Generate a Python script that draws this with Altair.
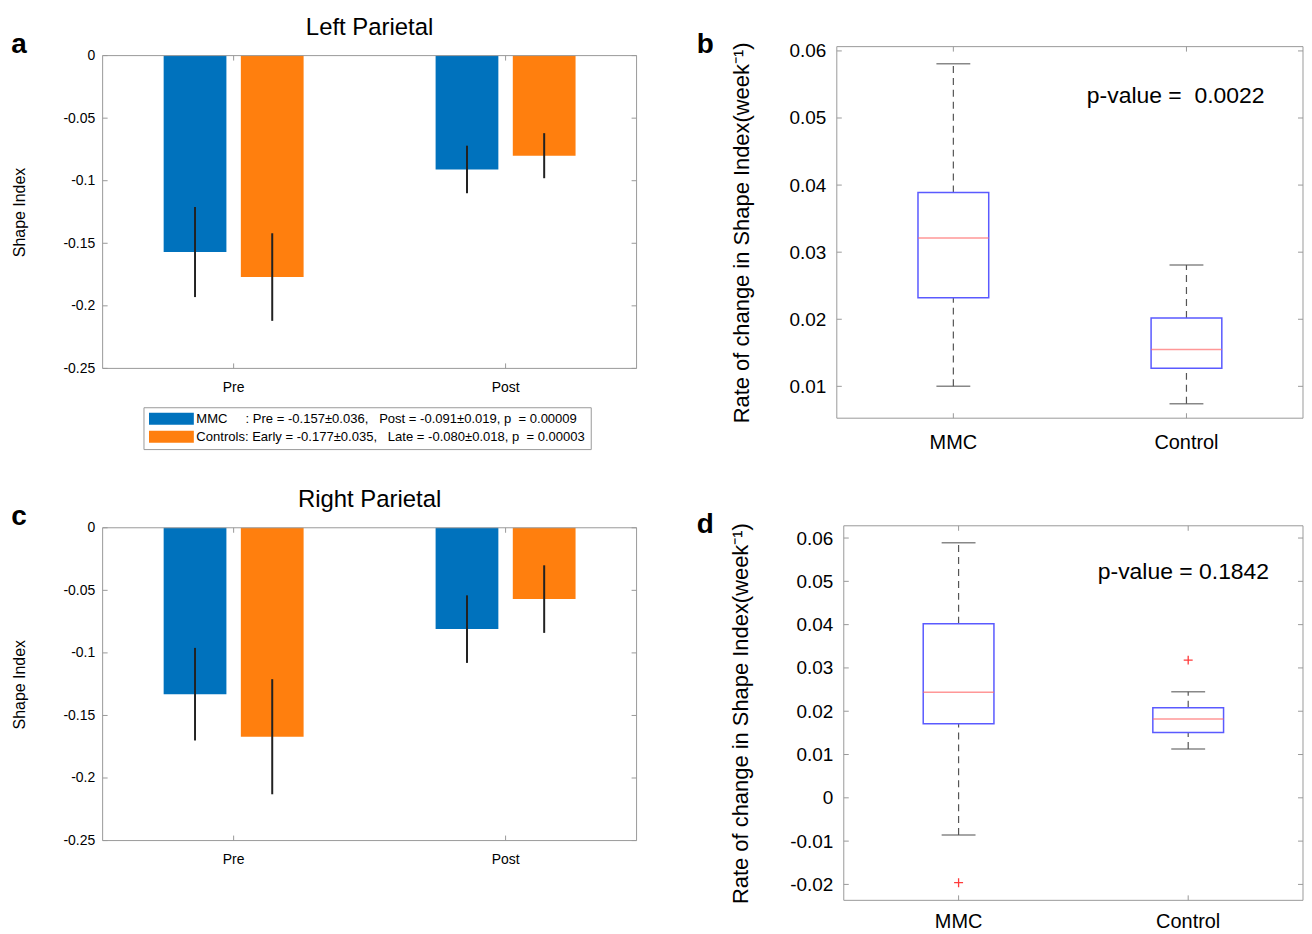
import altair as alt
import pandas as pd

FONT = "Liberation Sans"
NB = "\u00a0"
BOX_GRAY = "#9a9a9a"

# ---------------- data: bar panels (a, c) ----------------
bar_groups = ["Pre", "Post"]
bar_series = ["MMC", "Controls"]
bar_colors = ["#0072bd", "#ff7f0e"]
bar_ticks = [0, -0.05, -0.1, -0.15, -0.2, -0.25]

left_mmc_mean = [-0.157, -0.091]
left_mmc_sd = [0.036, 0.019]
left_ctl_mean = [-0.177, -0.080]
left_ctl_sd = [0.035, 0.018]
left_p = ["0.00009", "0.00003"]

right_mmc_mean = [-0.133, -0.081]
right_mmc_sd = [0.037, 0.027]
right_ctl_mean = [-0.167, -0.057]
right_ctl_sd = [0.046, 0.027]
right_p = ["0.00182", "0.00005"]

# ---------------- data: box panels (b, d) ----------------
box_groups = ["MMC", "Control"]

b_low = [0.0100, 0.0074]
b_q1 = [0.0232, 0.0127]
b_med = [0.0321, 0.0155]
b_q3 = [0.0389, 0.0202]
b_high = [0.0581, 0.0281]
b_ptext = "p-value =" + NB + NB + "0.0022"
b_ticks = [0.01, 0.02, 0.03, 0.04, 0.05, 0.06]

d_low = [-0.0086, 0.0113]
d_q1 = [0.0171, 0.0151]
d_med = [0.0244, 0.0182]
d_q3 = [0.0402, 0.0208]
d_high = [0.0589, 0.0245]
d_out_group = ["MMC", "Control"]
d_out_val = [-0.0196, 0.0318]
d_ptext = "p-value = 0.1842"
d_ticks = [-0.02, -0.01, 0, 0.01, 0.02, 0.03, 0.04, 0.05, 0.06]

Y_TITLE_BOX = "Rate of change in Shape Index(week\u207b\u00b9)"

ONE = pd.DataFrame({"s": [0]})


def text_mark(txt, x, y, size, weight="normal", align="center"):
    return alt.Chart(pd.DataFrame({"t": [txt]})).mark_text(
        font=FONT, fontSize=size, fontWeight=weight, align=align,
        baseline="alphabetic", color="black"
    ).encode(text="t:N", x=alt.value(x), y=alt.value(y))


def anchor(x, y):
    # invisible point that fixes the outer bounds of the figure
    return alt.Chart(ONE).mark_point(opacity=0, size=1, filled=True).encode(
        x=alt.value(x), y=alt.value(y))


def frame(x0, x1, y0, y1):
    # the MATLAB style axes box
    r = dict(color=BOX_GRAY, strokeWidth=1)
    return [
        alt.Chart(ONE).mark_rule(**r).encode(x=alt.value(x0), x2=alt.value(x1), y=alt.value(y0)),
        alt.Chart(ONE).mark_rule(**r).encode(x=alt.value(x0), x2=alt.value(x1), y=alt.value(y1)),
        alt.Chart(ONE).mark_rule(**r).encode(x=alt.value(x0), y=alt.value(y0), y2=alt.value(y1)),
        alt.Chart(ONE).mark_rule(**r).encode(x=alt.value(x1), y=alt.value(y0), y2=alt.value(y1)),
    ]


def bar_panel(letter, title, mmc_mean, mmc_sd, ctl_mean, ctl_sd, pvals, top, W=536, H=314,
              legend_y=353, anchors=()):
    rows = []
    for i, g in enumerate(bar_groups):
        rows.append(dict(group=g, series="MMC", mean=mmc_mean[i],
                         lo=mmc_mean[i] - mmc_sd[i], hi=mmc_mean[i] + mmc_sd[i]))
        rows.append(dict(group=g, series="Controls", mean=ctl_mean[i],
                         lo=ctl_mean[i] - ctl_sd[i], hi=ctl_mean[i] + ctl_sd[i]))
    df = pd.DataFrame(rows)
    labels = [
        f"MMC{NB*5}: Pre = {mmc_mean[0]:.3f}\u00b1{mmc_sd[0]:.3f},{NB*3}Post = {mmc_mean[1]:.3f}\u00b1{mmc_sd[1]:.3f}, p{NB*2}= {pvals[0]}",
        f"Controls: Early = {ctl_mean[0]:.3f}\u00b1{ctl_sd[0]:.3f},{NB*3}Late = {ctl_mean[1]:.3f}\u00b1{ctl_sd[1]:.3f}, p{NB*2}= {pvals[1]}",
    ]
    label_expr = f"datum.label == 'MMC' ? '{labels[0]}' : '{labels[1]}'"
    bottom = top + H

    # MATLAB-like x limits: category centres slightly wider apart than W/2
    xscale = alt.Scale(paddingInner=0, paddingOuter=0, range=[-5, W + 5])
    x = alt.X("group:N", sort=bar_groups, scale=xscale,
              axis=alt.Axis(title=None, labelAngle=0, labelFontSize=14, labelPadding=12))
    xo = alt.XOffset("series:N", sort=bar_series,
                     scale=alt.Scale(paddingInner=0.187, paddingOuter=0.855))
    yscale = alt.Scale(domain=[-0.25, 0], nice=False, range=[bottom, top])
    y = alt.Y("mean:Q", scale=yscale,
              axis=alt.Axis(values=bar_ticks, title="Shape Index", titleFontSize=16,
                            titlePadding=36, labelFontSize=14, labelPadding=8,
                            labelExpr="datum.value < 0 ? '-' + format(-datum.value, '~g') : format(datum.value, '~g')"))
    color = alt.Color("series:N", sort=bar_series,
                      scale=alt.Scale(domain=bar_series, range=bar_colors),
                      legend=alt.Legend(
                          title=None, orient="none", legendX=41, legendY=legend_y + top,
                          direction="vertical",
                          symbolType="M-3.75,-1L3.75,-1L3.75,1L-3.75,1Z",
                          symbolSize=144, symbolOffset=16.5, labelOffset=18.5,
                          symbolStrokeWidth=0, symbolOpacity=1,
                          labelFont=FONT, labelFontSize=13.1, labelColor="black",
                          labelLimit=0, labelExpr=label_expr,
                          strokeColor=BOX_GRAY, fillColor="white",
                          padding=5, rowPadding=4))

    bars = alt.Chart(df).mark_bar().encode(x=x, xOffset=xo, y=y, color=color)
    err = alt.Chart(df).mark_bar(size=2, color="#222222").encode(
        x=alt.X("group:N", sort=bar_groups), xOffset=alt.XOffset("series:N", sort=bar_series),
        y=alt.Y("lo:Q"), y2="hi:Q")

    tdf = pd.DataFrame({"mean": bar_ticks})
    tl = alt.Chart(tdf).mark_rule(color=BOX_GRAY).encode(y="mean:Q", x=alt.value(0), x2=alt.value(5))
    tr = alt.Chart(tdf).mark_rule(color=BOX_GRAY).encode(y="mean:Q", x=alt.value(W - 5), x2=alt.value(W))
    gdf = pd.DataFrame({"group": bar_groups})
    tb = alt.Chart(gdf).mark_rule(color=BOX_GRAY).encode(
        x=alt.X("group:N", sort=bar_groups, bandPosition=0.5), y=alt.value(bottom), y2=alt.value(bottom - 5))
    tt = alt.Chart(gdf).mark_rule(color=BOX_GRAY).encode(
        x=alt.X("group:N", sort=bar_groups, bandPosition=0.5), y=alt.value(top), y2=alt.value(top + 5))

    layers = [bars, err, tl, tr, tb, tt] + frame(0, W, top, bottom) + [
        text_mark(letter, -84, top - 3, 28, "bold"),
        text_mark(title, W / 2, top - 21, 24),
    ] + [anchor(ax, ay) for ax, ay in anchors]
    return alt.layer(*layers).properties(width=W, height=bottom)


def box_panel(letter, low, q1, med, q3, high, ptext, ticks, domain, left, W, H,
              lab_pad, title_pad, x_lab_pad, letter_x, letter_y, p_x, p_y,
              out_g=None, out_v=None, label_expr=None, fmt=None):
    df = pd.DataFrame(dict(group=box_groups, low=low, q1=q1, med=med, q3=q3, high=high))
    right = left + W
    xscale = alt.Scale(paddingInner=0, paddingOuter=0, range=[left, right])
    x_axis = alt.X("group:N", sort=box_groups, scale=xscale,
                   axis=alt.Axis(title=None, labelAngle=0, labelFontSize=20, labelPadding=x_lab_pad))
    xc = alt.X("group:N", sort=box_groups, bandPosition=0.5)
    xb = alt.X("group:N", sort=box_groups)
    yscale = alt.Scale(domain=domain, nice=False, zero=False)
    axis_kw = dict(values=ticks, title=Y_TITLE_BOX, titleFontSize=22, titlePadding=title_pad,
                   labelFontSize=19, labelPadding=lab_pad)
    if label_expr:
        axis_kw["labelExpr"] = label_expr
    if fmt:
        axis_kw["format"] = fmt
    base = alt.Chart(df)
    whisk_lo = base.mark_rule(color="#555555", strokeDash=[7, 5], strokeWidth=1.2).encode(
        x=x_axis, y=alt.Y("low:Q", scale=yscale, axis=alt.Axis(**axis_kw)), y2="q1:Q")
    whisk_hi = base.mark_rule(color="#555555", strokeDash=[7, 5], strokeWidth=1.2).encode(
        x=xc, y="q3:Q", y2="high:Q")
    box = base.mark_bar(size=71, fill="white", stroke="#5a5aff", strokeWidth=1.5).encode(
        x=xb, y="q1:Q", y2="q3:Q")
    med_m = base.mark_tick(size=71, thickness=1.5, color="#ff6b6b").encode(x=xb, y="med:Q")
    cap_lo = base.mark_tick(size=34, thickness=1.5, color="#555555").encode(x=xb, y="low:Q")
    cap_hi = base.mark_tick(size=34, thickness=1.5, color="#555555").encode(x=xb, y="high:Q")

    tdf = pd.DataFrame({"low": ticks})
    tl = alt.Chart(tdf).mark_rule(color=BOX_GRAY).encode(y="low:Q", x=alt.value(left), x2=alt.value(left + 5))
    tr = alt.Chart(tdf).mark_rule(color=BOX_GRAY).encode(y="low:Q", x=alt.value(right - 5), x2=alt.value(right))
    gdf = pd.DataFrame({"group": box_groups})
    tb = alt.Chart(gdf).mark_rule(color=BOX_GRAY).encode(x=xc, y=alt.value(H), y2=alt.value(H - 5))
    tt = alt.Chart(gdf).mark_rule(color=BOX_GRAY).encode(x=xc, y=alt.value(0), y2=alt.value(5))

    layers = [whisk_lo, whisk_hi, box, med_m, cap_lo, cap_hi, tl, tr, tb, tt] + frame(left, right, 0, H) + [
        text_mark(ptext, p_x, p_y, 23, align="left"),
        text_mark(letter, letter_x, letter_y, 28, "bold")]
    if out_g is not None:
        odf = pd.DataFrame({"group": out_g, "low": out_v})
        layers.append(alt.Chart(odf).mark_point(
            shape="M-1,0L1,0M0,-1L0,1", size=81, filled=False, color="#ff3b3b",
            strokeWidth=1.3, opacity=1).encode(x=xc, y="low:Q"))
    return alt.layer(*layers).properties(width=right, height=H)


panel_a = bar_panel("a", "Left Parietal", left_mmc_mean, left_mmc_sd, left_ctl_mean, left_ctl_sd, left_p,
                    top=9, legend_y=353, anchors=[(-94, -36)])
panel_c = bar_panel("c", "Right Parietal", right_mmc_mean, right_mmc_sd, right_ctl_mean, right_ctl_sd, right_p,
                    top=2, legend_y=354)

panel_b = box_panel("b", b_low, b_q1, b_med, b_q3, b_high, b_ptext, b_ticks, [0.00525, 0.06064],
                    left=0, W=468, H=373, lab_pad=11, title_pad=36, x_lab_pad=14,
                    letter_x=-132, letter_y=6, p_x=251, p_y=57, fmt=".2f")
panel_d = box_panel("d", d_low, d_q1, d_med, d_q3, d_high, d_ptext, d_ticks, [-0.02368, 0.06283],
                    left=7, W=461, H=376, lab_pad=4, title_pad=37, x_lab_pad=11,
                    letter_x=-132, letter_y=7, p_x=262, p_y=53,
                    out_g=d_out_group, out_v=d_out_val,
                    label_expr="datum.value == 0 ? '0' : (datum.value < 0 ? '-' + format(-datum.value, '.2f') : format(datum.value, '.2f'))")

chart = alt.concat(panel_a, panel_b, panel_c, panel_d, columns=2, bounds="flush",
                   spacing={"row": 108, "column": 201}).properties(
    padding={"left": 0, "top": 0, "right": 0, "bottom": 0},
    background="white",
).configure(font=FONT).configure_view(
    strokeOpacity=0
).configure_axis(
    domain=False, ticks=False, grid=False, tickSize=0,
    labelColor="black", titleColor="black",
    labelFont=FONT, titleFont=FONT, titleFontWeight="normal"
)

chart.save("out.html", embed_options={"renderer": "svg", "actions": False})
